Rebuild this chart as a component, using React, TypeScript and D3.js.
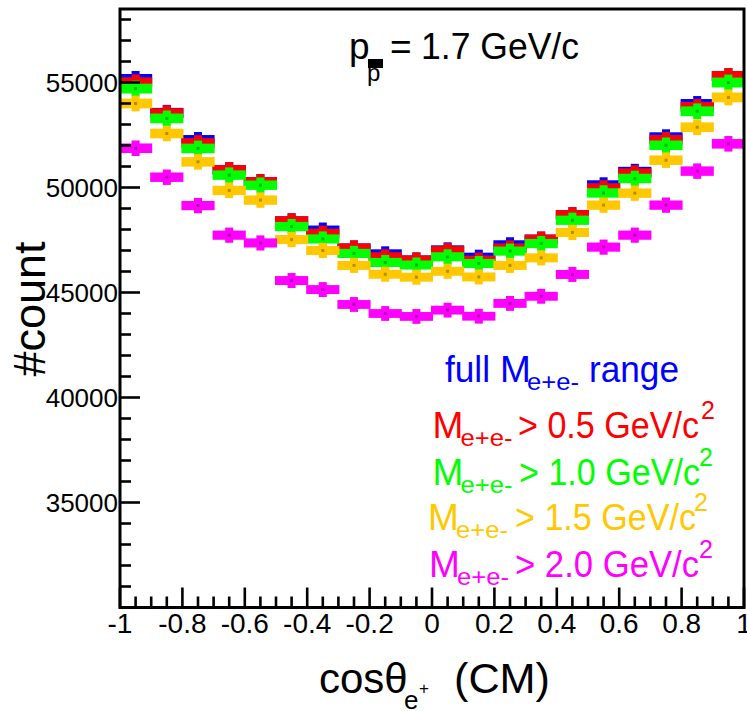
import React from "react";
import * as d3 from "d3";

// bin edges of cos(theta) histogram
const binEdges = [-1, -0.9, -0.8, -0.7, -0.6, -0.5, -0.4, -0.3, -0.2, -0.1, 0, 0.1, 0.2, 0.3, 0.4, 0.5, 0.6, 0.7, 0.8, 0.9, 1];

// counts per bin
const fullRange = [55170, 53560, 52270, 50840, 50270, 48410, 47970, 47120, 46840, 46550, 47030, 46680, 47270, 47540, 48700, 50120, 50760, 52400, 53980, 55310];
const mCut05 = [55010, 53540, 52120, 50840, 50270, 48410, 47820, 47120, 46700, 46550, 46990, 46540, 47120, 47540, 48700, 49980, 50690, 52270, 53840, 55310];
const mCut10 = [54710, 53290, 51860, 50590, 50110, 48140, 47550, 46860, 46430, 46310, 46700, 46380, 46970, 47330, 48440, 49740, 50430, 52010, 53630, 55000];
const mCut15 = [54000, 52570, 51220, 49860, 49400, 47520, 47000, 46290, 45870, 45730, 46010, 45740, 46290, 46650, 47860, 49160, 49730, 51300, 52870, 54290];
const mCut20 = [51870, 50490, 49140, 47730, 47360, 45570, 45140, 44430, 44000, 43860, 44160, 43870, 44480, 44820, 45860, 47160, 47730, 49160, 50780, 52080];

const seriesColors = ["#0000ff", "#ff0000", "#00ff00", "#ffc800", "#ff00ff"];
const cutLabels = ["> 0.5 GeV/c", "> 1.0 GeV/c", "> 1.5 GeV/c", "> 2.0 GeV/c"];

// axis ticks
const xTicks = [-1, -0.8, -0.6, -0.4, -0.2, 0, 0.2, 0.4, 0.6, 0.8, 1];
const xTickLabels = ["-1", "-0.8", "-0.6", "-0.4", "-0.2", "0", "0.2", "0.4", "0.6", "0.8", "1"];
const yTicks = [35000, 40000, 45000, 50000, 55000];

const width = 747;
const height = 711;
const left = 120, right = 744, top = 9, bottom = 607.5;
const font = "'Liberation Sans', Arial, Helvetica, sans-serif";

const App = () => {
  const x = d3.scaleLinear().domain([-1, 1]).range([left, right]);
  const y = d3.scaleLinear().domain([30000, 58500]).range([bottom, top]);

  const series = [fullRange, mCut05, mCut10, mCut15, mCut20];
  const xMinor = d3.range(-1, 1.0001, 0.05);
  const yMinor = d3.range(30000, 58001, 1000);

  // legend rows (baselines and piece positions)
  const rows = [
    { by: 438, mx: 432.5, rest: 518, len: 181, sx: 701 },
    { by: 485, mx: 432.5, rest: 519, len: 181, sx: 699 },
    { by: 530, mx: 428, rest: 515, len: 181, sx: 694 },
    { by: 577, mx: 429, rest: 515, len: 184, sx: 699 },
  ];

  return (
    <svg width={width} height={height} style={{ position: "absolute", left: 0, top: 0 }} fontFamily={font}>
      <rect width={width} height={height} fill="#fff" />

      {/* histograms */}
      {series.map((vals, si) => {
        const c = seriesColors[si];
        const dark = d3.color(c)!.darker(1).toString();
        return (
          <g key={si}>
            {vals.map((v, i) => {
              const err = Math.sqrt(v);
              const x0 = x(binEdges[i]) - 1;
              const x1 = x(binEdges[i + 1]) + 1;
              const cx = (x0 + x1) / 2;
              const yt = y(v + err);
              const yb = y(v - err);
              return (
                <g key={i}>
                  <rect x={x0} y={yt} width={x1 - x0} height={yb - yt} fill={c} />
                  <rect x={cx - 4} y={yt - 3} width={8} height={yb - yt + 6} fill={c} />
                  <rect x={cx - 1.5} y={y(v) - 1.5} width={3} height={3} fill={dark} />
                </g>
              );
            })}
          </g>
        );
      })}

      {/* frame */}
      <rect x={left} y={top} width={right - left} height={bottom - top} fill="none" stroke="#000" strokeWidth={3} />

      {/* y ticks */}
      {yMinor.map((t) => {
        const major = yTicks.includes(t);
        return <line key={"ym" + t} x1={left} x2={left + (major ? 20 : 11)} y1={y(t)} y2={y(t)} stroke="#000" strokeWidth={2.6} />;
      })}
      {yTicks.map((t) => (
        <text key={"yl" + t} x={118} y={y(t) + 9} fontSize={26} textAnchor="end" fill="#000">{t}</text>
      ))}

      {/* x ticks */}
      {xMinor.map((t, i) => {
        const major = i % 4 === 0;
        return <line key={"xm" + i} x1={x(t)} x2={x(t)} y1={bottom} y2={bottom - (major ? 20 : 11)} stroke="#000" strokeWidth={2.6} />;
      })}
      {xTicks.map((t, i) => (
        <text key={"xl" + i} x={x(t)} y={633} fontSize={28} textAnchor="middle" fill="#000">{xTickLabels[i]}</text>
      ))}

      {/* axis titles */}
      <text transform="translate(45,309) rotate(-90)" fontSize={45} textAnchor="middle" fill="#000">#count</text>
      <text x={319} y={693} fontSize={42} fill="#000">cosθ</text>
      <text x={404} y={709} fontSize={26} fill="#000">e</text>
      <text x={419} y={694} fontSize={17} fill="#000">+</text>
      <text x={454} y={693} fontSize={43} textLength={96} lengthAdjust="spacingAndGlyphs" fill="#000">(CM)</text>

      {/* beam momentum */}
      <text x={349} y={59} fontSize={37} fill="#000">p</text>
      <rect x={368} y={59} width={15} height={9} fill="#000" />
      <text x={367} y={81} fontSize={24} fill="#000">p</text>
      <text x={390} y={59} fontSize={37} fill="#000">=</text>
      <text x={421} y={59} fontSize={37} textLength={158} lengthAdjust="spacingAndGlyphs" fill="#000">1.7 GeV/c</text>

      {/* legend */}
      <g fill={seriesColors[0]}>
        <text x={445} y={382} fontSize={37} textLength={45} lengthAdjust="spacingAndGlyphs">full</text>
        <text x={500} y={382} fontSize={37}>M</text>
        <text x={527} y={390} fontSize={24} textLength={52} lengthAdjust="spacingAndGlyphs">e+e-</text>
        <text x={589} y={382} fontSize={37} textLength={90} lengthAdjust="spacingAndGlyphs">range</text>
      </g>
      {rows.map((r, i) => (
        <g key={"lg" + i} fill={seriesColors[i + 1]}>
          <text x={r.mx} y={r.by} fontSize={37}>M</text>
          <text x={r.mx + 28} y={r.by + 8} fontSize={24} textLength={52} lengthAdjust="spacingAndGlyphs">e+e-</text>
          <text x={r.rest} y={r.by} fontSize={37} textLength={r.len} lengthAdjust="spacingAndGlyphs">{cutLabels[i]}</text>
          <text x={r.sx} y={r.by - 19} fontSize={25}>2</text>
        </g>
      ))}
    </svg>
  );
};

export default App;
